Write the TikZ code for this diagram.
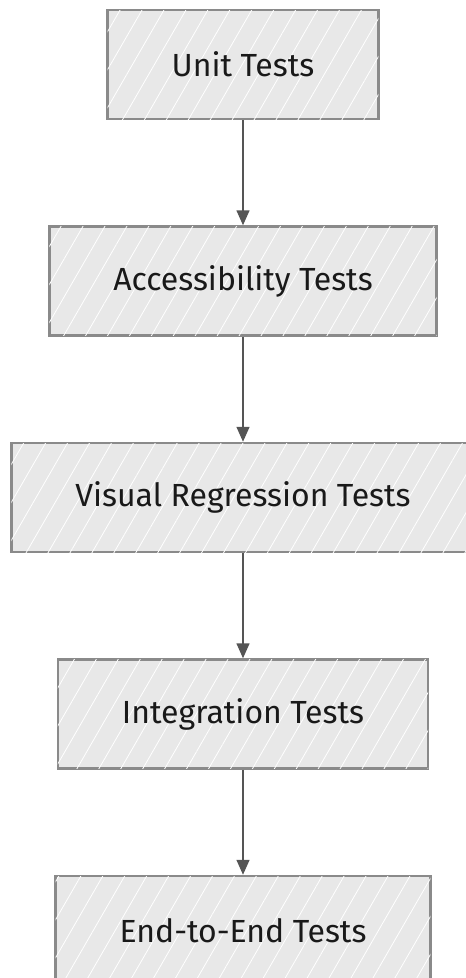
\documentclass[tikz,border=0pt]{standalone}
\usepackage{fontspec}
\setmainfont{Fira Sans}
\usetikzlibrary{positioning,arrows.meta,patterns.meta}
\definecolor{boxfill}{HTML}{E8E8E8}
\definecolor{boxline}{HTML}{8A8A8A}
\definecolor{arrline}{HTML}{555555}
\tikzset{
  stage/.style={draw=boxline, line width=2.5pt, fill=boxfill,
    postaction={pattern color=white, pattern={Lines[angle=60,distance=19pt,line width=0.8pt]}},
    minimum height=109pt, inner xsep=64pt, text=black!90,
    font=\fontsize{32}{38}\selectfont},
  flow/.style={draw=arrline, line width=1.5pt, -{Triangle[length=15pt,width=13pt]}}
}
\begin{document}
\begin{tikzpicture}[node distance=105pt]
\useasboundingbox (0,0) rectangle (466pt,-978pt);
\node[stage] (unit) at (243pt,-64.5pt) {Unit Tests};
\node[stage, below=of unit] (access) {Accessibility Tests};
\node[stage, below=of access] (visual) {Visual Regression Tests};
\node[stage, below=of visual] (integ) {Integration Tests};
\node[stage, below=of integ] (e2e) {End-to-End Tests};
\foreach \a/\b in {unit/access,access/visual,visual/integ,integ/e2e}
  \draw[flow] (\a) -- (\b);
\end{tikzpicture}
\end{document}
